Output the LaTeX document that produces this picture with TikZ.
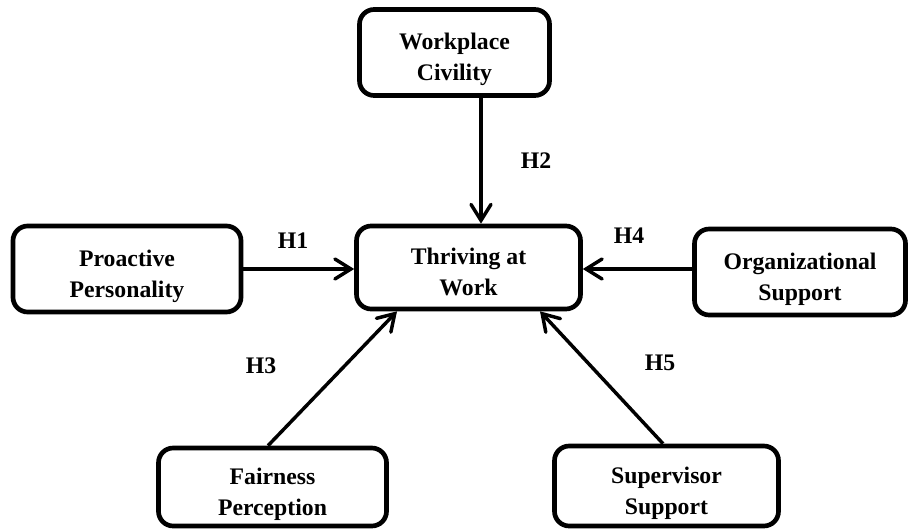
\documentclass[tikz,border=0pt]{standalone}
\usepackage{fontspec}
\setmainfont{Liberation Serif}
\usetikzlibrary{arrows.meta}
\newcommand{\twolines}[2]{\raisebox{-5pt}[\height][\depth]{\begin{tabular}{@{}c@{}}#1\\#2\end{tabular}}}
\tikzset{
  factor box/.style={
    draw,
    line width=3.5pt,
    rounded corners=11pt,
    inner sep=0pt,
    minimum width={#1*0.75pt},
    minimum height={86*0.75pt},
    font=\fontsize{17.8}{23}\selectfont\bfseries,
  },
  effect/.style={
    line width=2.6pt,
    -{Straight Barb[length=12pt,width=15pt,line cap=round]},
  },
  hypothesis/.style={
    anchor=base,
    font=\fontsize{17.8}{23}\selectfont\bfseries,
  }
}

\begin{document}
\begin{tikzpicture}[x=0.75pt, y=-0.75pt]
    \useasboundingbox (0,0) rectangle (912,531);

    \node [factor box=224, minimum height={83*0.75pt}] (thriving) at (468.5,267.5) {\twolines{Thriving at}{Work}};
    \node [factor box=190] (civility) at (454.5,52.5) {\twolines{Workplace}{Civility}};
    \node [factor box=228] (proactive) at (127,269) {\twolines{Proactive}{Personality}};
    \node [factor box=211] (support) at (800,272) {\twolines{Organizational}{Support}};
    \node [factor box=228, minimum height={78*0.75pt}] (fairness) at (272.5,487) {\twolines{Fairness}{Perception}};
    \node [factor box=224, minimum height={80*0.75pt}] (supervisor) at (666.5,486) {\twolines{Supervisor}{Support}};

    \draw [effect] (proactive.east) -- (proactive.east -| thriving.west);
    \draw [effect] ([xshift={26.5*0.75pt}]civility.south) -- ([xshift={12.5*0.75pt}]thriving.north);
    \draw [effect] ([xshift={-4.5*0.75pt}]fairness.north) -- ([xshift={-71.5*0.75pt}]thriving.south);
    \draw [effect] (support.west |- proactive.east) -- (thriving.east |- proactive.east);
    \draw [effect] ([xshift={-3.5*0.75pt}]supervisor.north) -- ([xshift={71.5*0.75pt}]thriving.south);

    \node [hypothesis] (h1) at (293,248) {H1};
    \node [hypothesis] (h2) at (536,168) {H2};
    \node [hypothesis] (h3) at (261,373) {H3};
    \node [hypothesis] (h4) at (629,243) {H4};
    \node [hypothesis] (h5) at (660,370) {H5};
\end{tikzpicture}
\end{document}
